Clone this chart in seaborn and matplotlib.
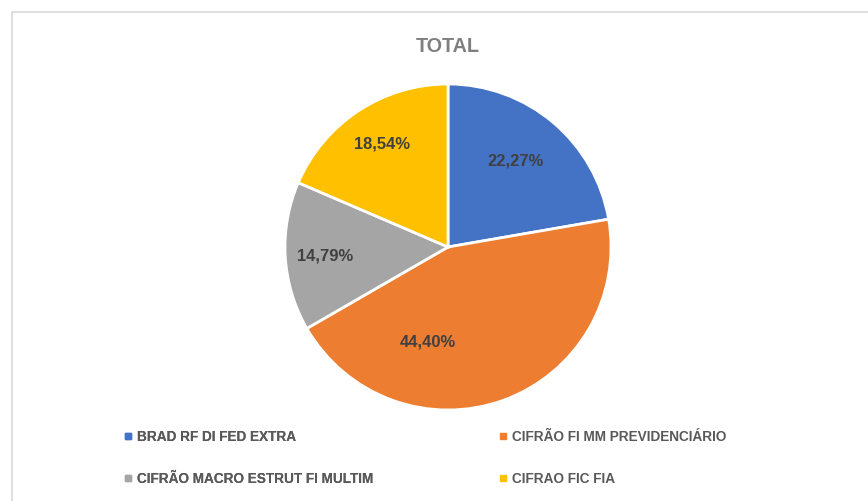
import matplotlib
matplotlib.use("Agg")
import matplotlib.pyplot as plt
from matplotlib.lines import Line2D
from matplotlib.patches import Rectangle
import seaborn as sns

# Data
fundos = ['BRAD RF DI FED EXTRA', 'CIFRÃO FI MM PREVIDENCIÁRIO',
          'CIFRÃO MACRO ESTRUT FI MULTIM', 'CIFRAO FIC FIA']
percentuais = [22.27, 44.40, 14.79, 18.54]
cores = ['#4472C4', '#ED7D31', '#A5A5A5', '#FFC000']
# label placement (fraction of radius), Excel "best fit" style
pos_rotulos = [(0.417, 0.528), (-0.123, -0.583), (-0.755, -0.055), (-0.405, 0.632)]

sns.set_theme(style="white")
plt.rcParams['font.family'] = ['Liberation Sans', 'DejaVu Sans']

W, H = 868, 501
fig = plt.figure(figsize=(W / 100, H / 100), dpi=100)

# chart-area border
fig.patches.append(Rectangle((12 / W, -0.1), 1.2, (H - 12) / H + 0.1,
                             transform=fig.transFigure, fill=False,
                             edgecolor='#D9D9D9', linewidth=1.2))

cx, cy, r = 448, 247, 163
ax = fig.add_axes([(cx - r) / W, (H - cy - r) / H, 2 * r / W, 2 * r / H])

wedges, texts, autotexts = ax.pie(
    percentuais, colors=cores, startangle=90, counterclock=False,
    autopct=lambda p: f'{p:.2f}%'.replace('.', ','),
    wedgeprops=dict(edgecolor='white', linewidth=2), radius=1)
for t, p in zip(autotexts, pos_rotulos):
    t.set_position(p)
    t.set_color('#404040')
    t.set_fontsize(11.9)
    t.set_fontweight('bold')
ax.set_xlim(-1, 1)
ax.set_ylim(-1, 1)
ax.set_aspect('equal')
ax.axis('off')

fig.text(cx / W, 1 - 52.3 / H, 'TOTAL', ha='center', va='baseline',
         fontsize=14.2, fontweight='bold', color='#7F7F7F')


def legenda(idx, x_px):
    handles = [Line2D([], [], marker='s', linestyle='', markersize=4.6,
                      color=cores[i]) for i in idx]
    leg = fig.legend(handles, [fundos[i] for i in idx], loc='upper left',
                     bbox_to_anchor=(x_px / W, 1 - 430 / H), frameon=False,
                     handlelength=0.45, handletextpad=0.5,
                     labelspacing=2.03, prop={'weight': 'bold', 'size': 9.8},
                     borderaxespad=0, borderpad=0)
    for t in leg.get_texts():
        t.set_color('#595959')
    return leg


fig.add_artist(legenda([0, 2], 124.5))
legenda([1, 3], 499.5)

fig.savefig('out.png', dpi=100)
